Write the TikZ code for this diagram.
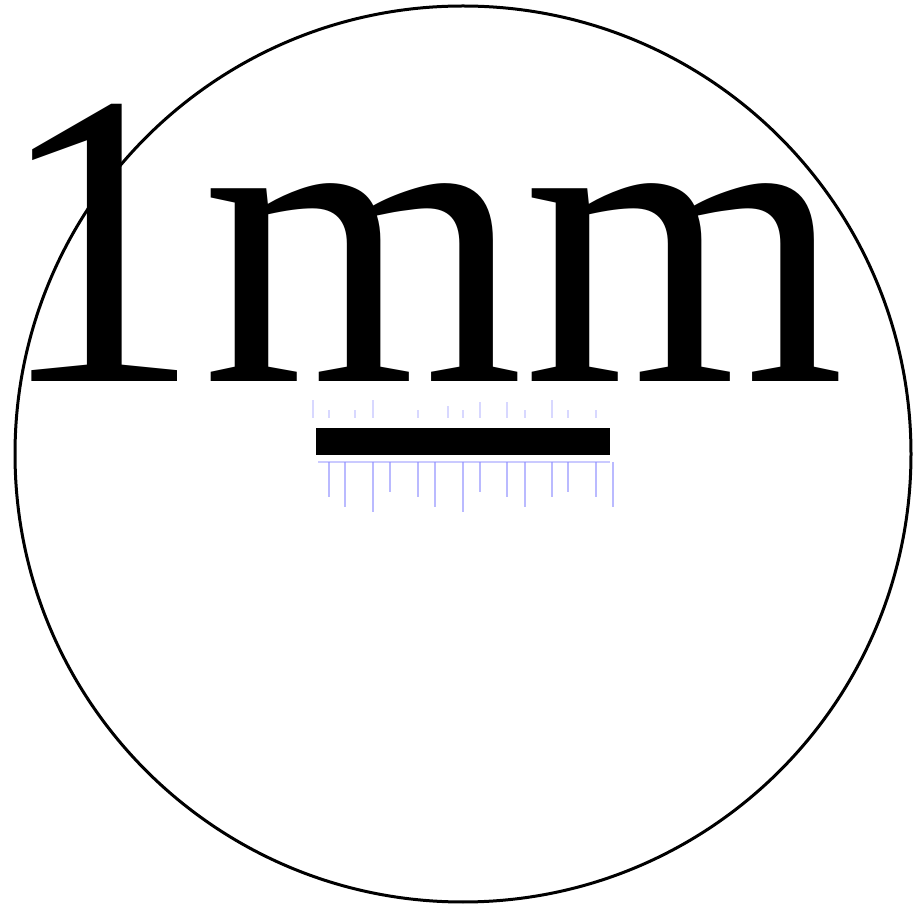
\documentclass[tikz,border=0pt]{standalone}
\usepackage{fontspec}
\setmainfont{Liberation Serif}
\begin{document}
\begin{tikzpicture}[x=1pt,y=1pt,
  rim/.style={draw=black,line width=3pt},
  bigtext/.style={font=\fontsize{420}{420}\selectfont,inner sep=0pt,anchor=base west,xscale=0.985},
  bar/.style={fill=black},
  tickl/.style={draw=blue!45!white,line width=2pt,opacity=0.6},
  tickf/.style={draw=blue!30!white,line width=1.5pt,opacity=0.5}]
\useasboundingbox (0,0) rectangle (916,908);
\node[rim,circle,minimum size=896pt,inner sep=0pt] (c) at (463,454) {};
\node[bigtext] (t) at (0,526) {\kern-5pt 1mm};
\node[bar,minimum width=294pt,minimum height=27pt,inner sep=0pt] (b) at (463,466.5) {};
\draw[draw=blue!35!white,line width=2pt,opacity=0.6] (318,446) -- (610,446);
\foreach \x/\l in {329/35,345/45,373/50,390/30,418/35,435/45,463/50,480/30,507/35,525/45,552/35,568/30,596/35,613/45}{
  \draw[tickl] (\x,446) -- (\x,446-\l);
}
\foreach \x/\l in {313/18,329/8,355/8,373/18,418/8,448/12,463/8,480/16,507/16,525/8,552/18,568/8,596/8}{
  \draw[tickf] (\x,490) -- (\x,490+\l);
}
\end{tikzpicture}
\end{document}
